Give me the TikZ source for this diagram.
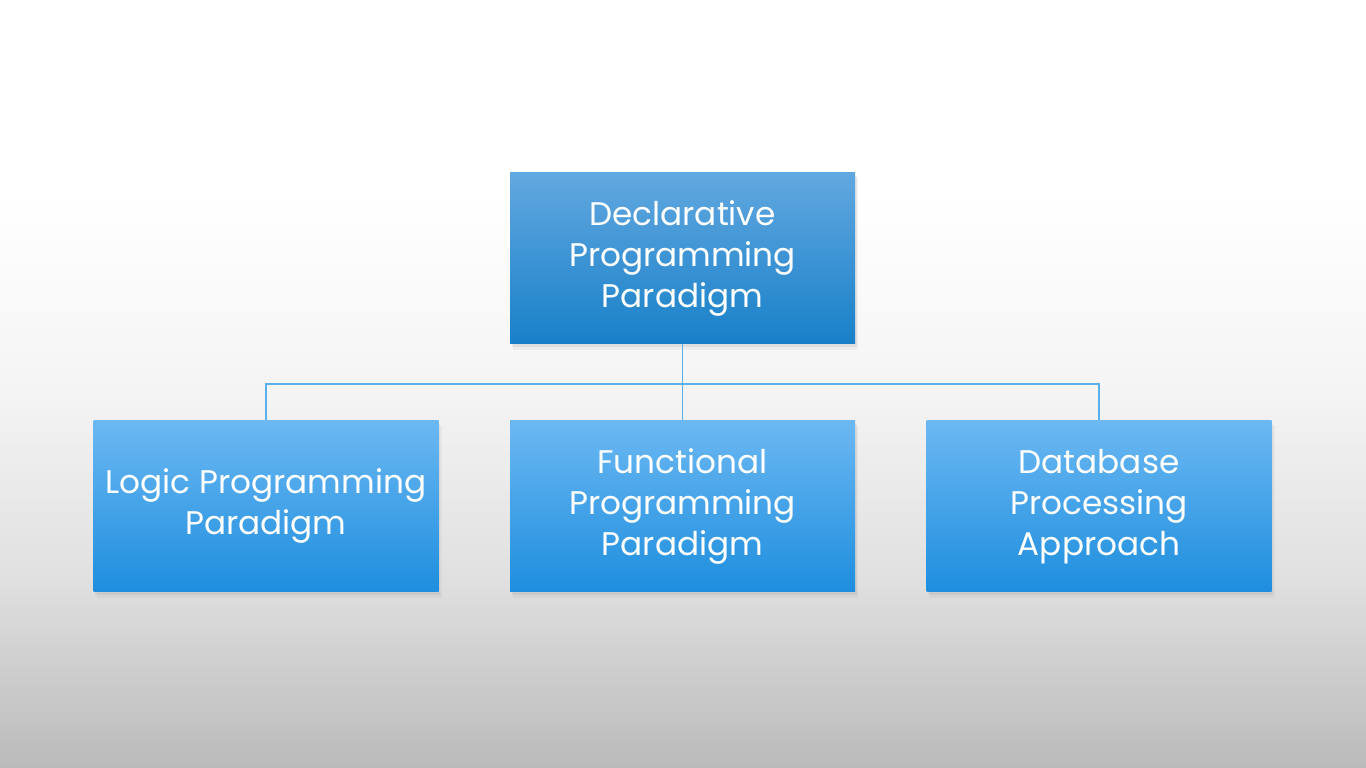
\documentclass[tikz,border=0pt]{standalone}
\usepackage{fontspec}
\setmainfont{Poppins}
\usepackage{tikz}
\usetikzlibrary{shadows}
\definecolor{topblueA}{RGB}{98,168,224}
\definecolor{topblueB}{RGB}{24,128,200}
\definecolor{subblueA}{RGB}{108,184,242}
\definecolor{subblueB}{RGB}{30,142,222}
\definecolor{linkblue}{RGB}{90,176,234}
\pgfdeclareverticalshading{slidebg}{100bp}{color(0bp)=(black!27); color(25bp)=(black!27); color(37.5bp)=(black!12); color(50bp)=(black!4); color(62.5bp)=(white); color(75bp)=(white); color(100bp)=(white)}
\tikzset{
  box/.style={rectangle,minimum width=6.9cm,minimum height=3.43cm,inner sep=0pt,
    text=white,font=\fontsize{18.6}{23.3}\selectfont,
    drop shadow={opacity=0.12,shadow xshift=0.03cm,shadow yshift=-0.07cm},
    drop shadow={opacity=0.08,shadow xshift=0.06cm,shadow yshift=-0.12cm}},
  headbox/.style={box,top color=topblueA,bottom color=topblueB},
  subbox/.style={box,top color=subblueA,bottom color=subblueB},
  link/.style={draw=linkblue,line width=0.9pt},
}

\begin{document}
\begin{tikzpicture}
      \shade[shading=slidebg] (0,0) rectangle (27.32,15.36);
      \useasboundingbox (0,0) rectangle (27.32,15.36);

      \node[headbox] (decl) at (13.65,10.2) {\begin{tabular}{c} Declarative\\ Programming\\ Paradigm \end{tabular}};

      \node[subbox] (logic) at (5.32,5.24) {\begin{tabular}{c} Logic Programming\\ Paradigm \end{tabular}};
      \node[subbox] (func) at (13.65,5.24) {\begin{tabular}{c} Functional\\ Programming\\ Paradigm \end{tabular}};
      \node[subbox] (dbase) at (21.98,5.24) {\begin{tabular}{c} Database\\ Processing\\ Approach \end{tabular}};

      \coordinate (bar) at (13.65,7.68);

      \draw[link] (decl.south) -- (bar);
      \draw[link] (bar) -| (logic.north);
      \draw[link] (bar) -| (dbase.north);
      \draw[link] (bar) -- (func.north);
    \end{tikzpicture}
\end{document}
